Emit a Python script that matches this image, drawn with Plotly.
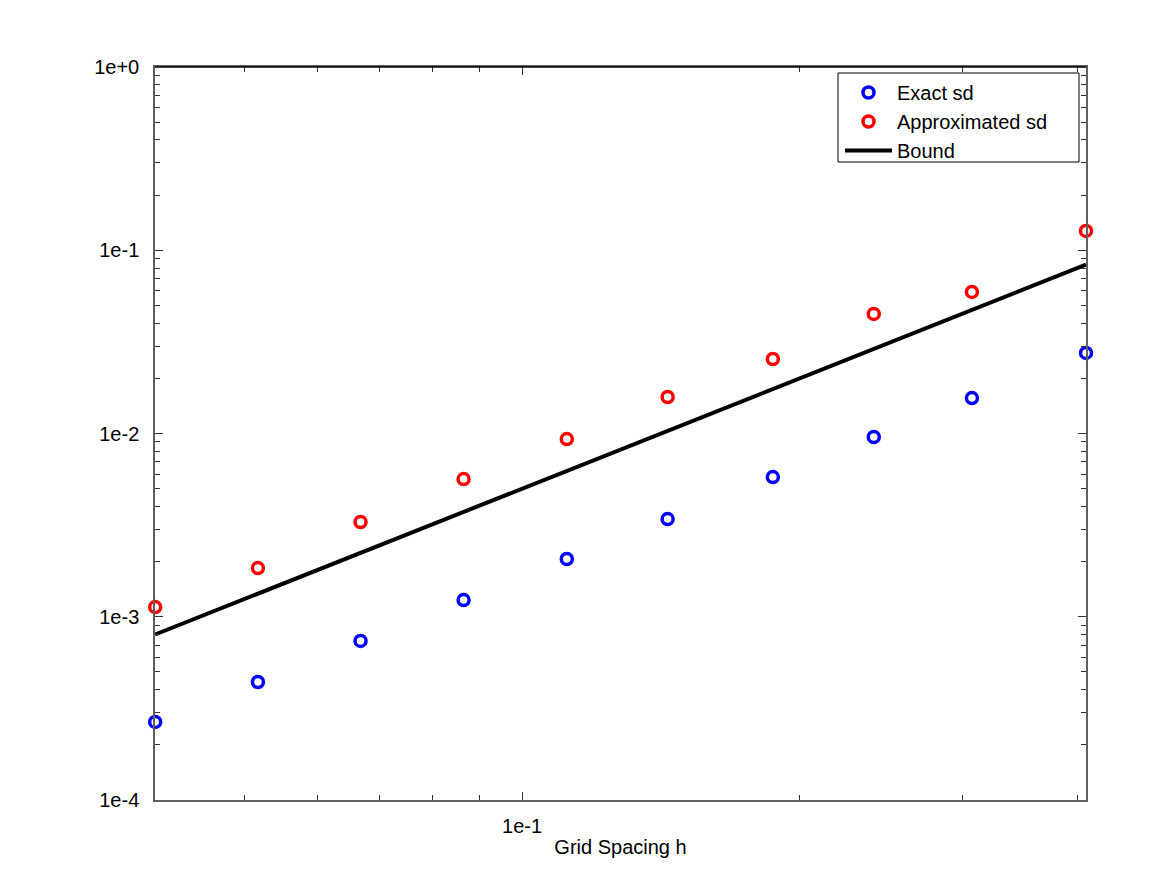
import plotly.graph_objects as go

# Data
h = [0.04, 0.0517, 0.0668, 0.0864, 0.1118, 0.1438, 0.187, 0.2406, 0.3074, 0.4087]
exact_sd = [2.665e-4, 4.405e-4, 7.374e-4, 1.234e-3, 2.066e-3, 3.415e-3, 5.788e-3, 9.57e-3, 0.01562, 0.0275]
approx_sd = [1.130e-3, 1.845e-3, 3.289e-3, 5.644e-3, 9.33e-3, 0.01582, 0.0255, 0.04489, 0.0592, 0.1274]
bound = [0.0008, 0.001335, 0.002231, 0.003733, 0.00625, 0.01034, 0.01749, 0.02894, 0.04725, 0.0835]

x_major = [0.1]
x_major_text = ["1e-1"]
x_minor = [0.05, 0.06, 0.07, 0.08, 0.09, 0.2, 0.3, 0.4]
y_major = [1e-4, 1e-3, 1e-2, 1e-1, 1e0]
y_major_text = ["1e-4", "1e-3", "1e-2", "1e-1", "1e+0"]
y_minor = [m * 10.0 ** k for k in (-4, -3, -2, -1) for m in range(2, 10)]

FONT = "Liberation Sans, Arial, Helvetica, sans-serif"
FS = 20

fig = go.Figure()
fig.add_trace(go.Scatter(
    x=h, y=exact_sd, mode="markers", name="Exact sd", cliponaxis=False,
    marker=dict(symbol="circle-open", size=11, color="#0000ff", line=dict(width=3.5, color="#0000ff")),
))
fig.add_trace(go.Scatter(
    x=h, y=approx_sd, mode="markers", name="Approximated sd", cliponaxis=False,
    marker=dict(symbol="circle-open", size=11, color="#ff0000", line=dict(width=3.5, color="#ff0000")),
))
fig.add_trace(go.Scatter(
    x=h, y=bound, mode="lines", name="Bound",
    line=dict(color="black", width=4),
))

axis_common = dict(
    showgrid=False, zeroline=False, showline=True, linecolor="#606060", linewidth=1.5,
    mirror="ticks", ticks="inside", tickcolor="#333333", tickwidth=1, ticklen=8,
    tickfont=dict(family=FONT, size=FS, color="black"),
)

fig.update_xaxes(
    type="log", range=[-1.3981, -0.38859],
    tickmode="array", tickvals=x_major, ticktext=x_major_text,
    minor=dict(tickmode="array", tickvals=x_minor, ticks="inside", ticklen=5, tickcolor="#333333", tickwidth=1),
    title=dict(text="Grid Spacing h", font=dict(family=FONT, size=FS, color="black"), standoff=4),
    ticklabelstandoff=7,
    **axis_common,
)
fig.update_yaxes(
    type="log", range=[-4, 0],
    tickmode="array", tickvals=y_major, ticktext=y_major_text,
    minor=dict(tickmode="array", tickvals=y_minor, ticks="inside", ticklen=5, tickcolor="#333333", tickwidth=1),
    ticklabelstandoff=10,
    **axis_common,
)

# legend frame
L, R, T, B = 155, 1086, 67, 800
pw, ph = R - L, B - T
def px(xp):
    return (xp - L) / pw
def py(yp):
    return (B - yp) / ph

fig.add_shape(type="rect", xref="paper", yref="paper",
              x0=px(838), x1=px(1079), y0=py(162), y1=py(73),
              line=dict(color="black", width=1), fillcolor="white", layer="above")
fig.add_shape(type="line", xref="paper", yref="paper",
              x0=0, x1=1, y0=1, y1=1, line=dict(color="black", width=1.5), layer="above")

fig.update_layout(
    width=1167, height=875,
    margin=dict(l=L, r=1167 - R, t=T, b=875 - B),
    paper_bgcolor="white", plot_bgcolor="white",
    font=dict(family=FONT, size=FS, color="black"),
    showlegend=True,
    legend=dict(
        x=px(840), y=py(73), xanchor="left", yanchor="top",
        bgcolor="rgba(0,0,0,0)", borderwidth=0,
        font=dict(family=FONT, size=FS, color="black"),
        itemwidth=47, tracegroupgap=0,
    ),
)

fig.write_html("out.html")
